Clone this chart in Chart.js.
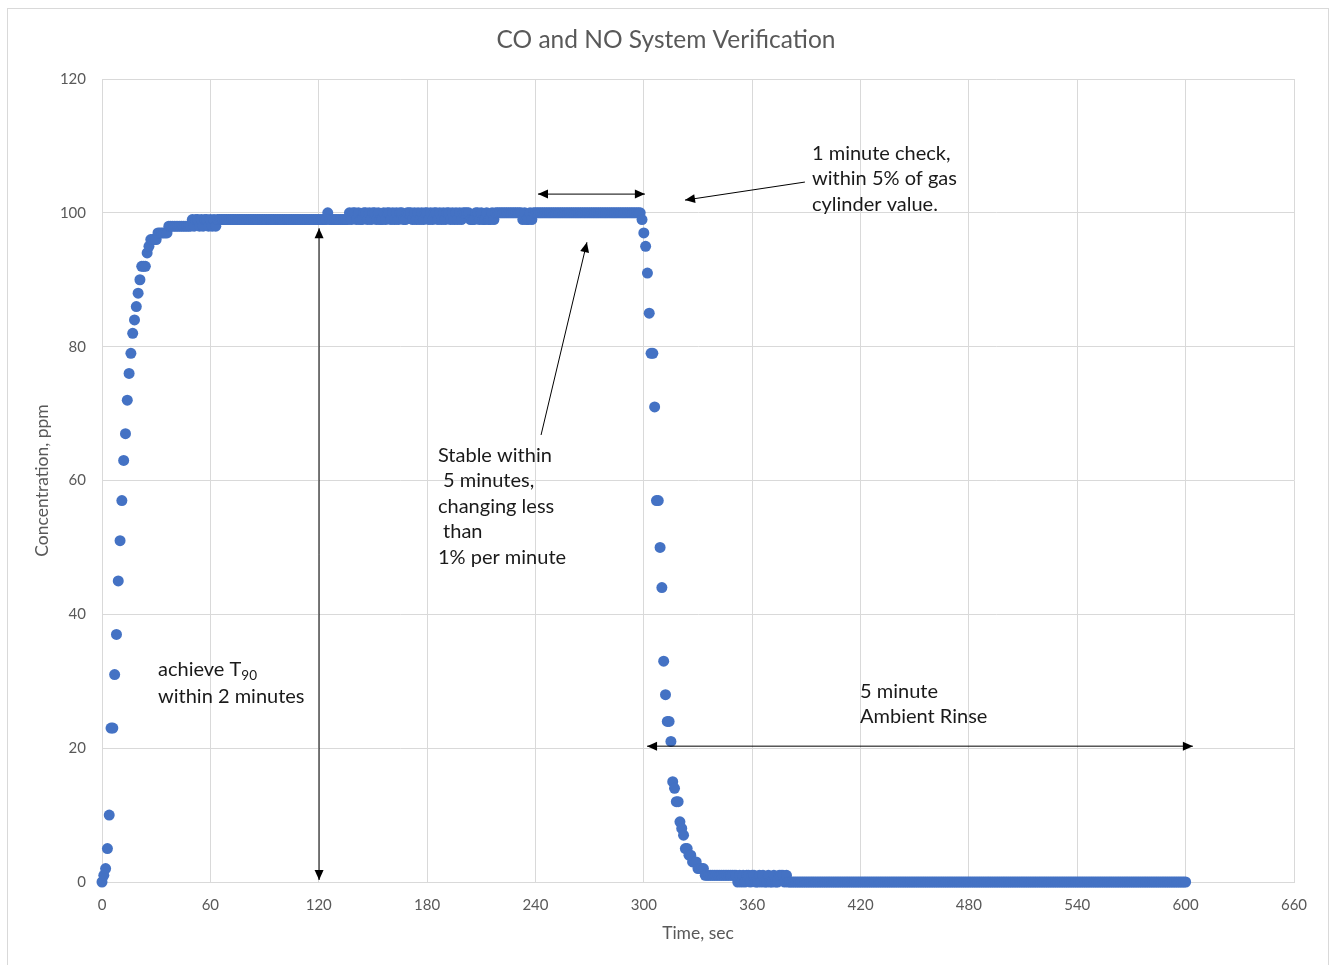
<!DOCTYPE html>
<html>
<head>
<meta charset="utf-8">
<title>CO and NO System Verification</title>
<script src="https://cdn.jsdelivr.net/npm/chart.js@4/dist/chart.umd.min.js"></script>
<style>
    html, body { margin: 0; padding: 0; background: #fff; }
    #wrap { width: 1332px; height: 965px; }
</style>
</head>
<body>
<div id="wrap"><canvas id="verifyChart" width="1332" height="965"></canvas></div>
<script>
// readings were logged once per second, 0..600 s
const sampleStep = 1;

// concentration in ppm, 20 readings per row
const concPpm = [
    0, 1, 2, 5, 10, 23, 23, 31, 37, 45, 51, 57, 63, 67, 72, 76, 79, 82, 84, 86,
    88, 90, 92, 92, 92, 94, 95, 96, 96, 96, 96, 97, 97, 97, 97, 97, 97, 98, 98, 98,
    98, 98, 98, 98, 98, 98, 98, 98, 98, 98, 99, 98, 99, 99, 98, 99, 98, 99, 99, 98,
    99, 98, 99, 98, 99, 99, 99, 99, 99, 99, 99, 99, 99, 99, 99, 99, 99, 99, 99, 99,
    99, 99, 99, 99, 99, 99, 99, 99, 99, 99, 99, 99, 99, 99, 99, 99, 99, 99, 99, 99,
    99, 99, 99, 99, 99, 99, 99, 99, 99, 99, 99, 99, 99, 99, 99, 99, 99, 99, 99, 99,
    99, 99, 99, 99, 99, 100, 99, 99, 99, 99, 99, 99, 99, 99, 99, 99, 99, 100, 99, 100,
    100, 99, 100, 99, 99, 100, 100, 99, 100, 99, 100, 100, 99, 100, 99, 99, 100, 99, 100, 100,
    99, 100, 99, 100, 99, 100, 100, 99, 99, 100, 100, 100, 99, 100, 99, 100, 99, 100, 99, 100,
    100, 99, 100, 99, 100, 100, 99, 100, 99, 100, 99, 100, 100, 99, 100, 99, 100, 99, 100, 99,
    100, 100, 100, 100, 99, 99, 99, 100, 100, 99, 100, 99, 99, 100, 99, 99, 100, 99, 100, 100,
    100, 100, 100, 100, 100, 100, 100, 100, 100, 100, 100, 100, 100, 99, 100, 99, 99, 100, 99, 100,
    100, 100, 100, 100, 100, 100, 100, 100, 100, 100, 100, 100, 100, 100, 100, 100, 100, 100, 100, 100,
    100, 100, 100, 100, 100, 100, 100, 100, 100, 100, 100, 100, 100, 100, 100, 100, 100, 100, 100, 100,
    100, 100, 100, 100, 100, 100, 100, 100, 100, 100, 100, 100, 100, 100, 100, 100, 100, 100, 100, 99,
    97, 95, 91, 85, 79, 79, 71, 57, 57, 50, 44, 33, 28, 24, 24, 21, 15, 14, 12, 12,
    9, 8, 7, 5, 5, 4, 4, 3, 3, 3, 2, 2, 2, 2, 1, 1, 1, 1, 1, 1,
    1, 1, 1, 1, 1, 1, 1, 1, 1, 1, 1, 1, 0, 1, 0, 1, 0, 1, 1, 0,
    1, 1, 0, 0, 1, 0, 1, 0, 0, 1, 0, 0, 1, 0, 0, 1, 1, 1, 0, 1,
    0, 0, 0, 0, 0, 0, 0, 0, 0, 0, 0, 0, 0, 0, 0, 0, 0, 0, 0, 0,
    0, 0, 0, 0, 0, 0, 0, 0, 0, 0, 0, 0, 0, 0, 0, 0, 0, 0, 0, 0,
    0, 0, 0, 0, 0, 0, 0, 0, 0, 0, 0, 0, 0, 0, 0, 0, 0, 0, 0, 0,
    0, 0, 0, 0, 0, 0, 0, 0, 0, 0, 0, 0, 0, 0, 0, 0, 0, 0, 0, 0,
    0, 0, 0, 0, 0, 0, 0, 0, 0, 0, 0, 0, 0, 0, 0, 0, 0, 0, 0, 0,
    0, 0, 0, 0, 0, 0, 0, 0, 0, 0, 0, 0, 0, 0, 0, 0, 0, 0, 0, 0,
    0, 0, 0, 0, 0, 0, 0, 0, 0, 0, 0, 0, 0, 0, 0, 0, 0, 0, 0, 0,
    0, 0, 0, 0, 0, 0, 0, 0, 0, 0, 0, 0, 0, 0, 0, 0, 0, 0, 0, 0,
    0, 0, 0, 0, 0, 0, 0, 0, 0, 0, 0, 0, 0, 0, 0, 0, 0, 0, 0, 0,
    0, 0, 0, 0, 0, 0, 0, 0, 0, 0, 0, 0, 0, 0, 0, 0, 0, 0, 0, 0,
    0, 0, 0, 0, 0, 0, 0, 0, 0, 0, 0, 0, 0, 0, 0, 0, 0, 0, 0, 0,
    0
];

const xTicks = [0, 60, 120, 180, 240, 300, 360, 420, 480, 540, 600, 660];
const yTicks = [0, 20, 40, 60, 80, 100, 120];

const chartTitle = 'CO and NO System Verification';
const xTitle = 'Time, sec';
const yTitle = 'Concentration, ppm';

// callouts, anchored in data units (sec, ppm)
const arrows = [
    {from: [241.4, 102.8], to: [300.6, 102.8], both: true},
    {from: [389.2, 104.6], to: [322.8, 101.9], both: false},
    {from: [243.1, 66.8], to: [268.5, 95.6], both: false},
    {from: [120.2, 0.3], to: [120.2, 97.7], both: true},
    {from: [301.8, 20.3], to: [604.0, 20.3], both: true}
];
const notes = [
    {at: [393.1, 108.9], lines: ['1 minute check,', 'within 5% of gas', 'cylinder value.']},
    {at: [186.0, 63.8], lines: ['Stable within', ' 5 minutes,', 'changing less', ' than', '1% per minute']},
    {at: [419.7, 28.5], lines: ['5 minute', 'Ambient Rinse']}
];
const t90Note = {at: [31.0, 31.7], before: 'achieve T', sub: '90', after: 'within 2 minutes'};

const fontFamily = 'Lato, "Open Sans", sans-serif';
const greyText = '#595959';
const gridGrey = '#d9d9d9';

let points = concPpm.map((v, i) => ({x: i * sampleStep, y: v}));

function drawArrowHead(ctx, x1, y1, x2, y2) {
    let ang = Math.atan2(y2 - y1, x2 - x1);
    let len = 10, half = 4.5;
    ctx.beginPath();
    ctx.moveTo(x2, y2);
    ctx.lineTo(x2 - len * Math.cos(ang) + half * Math.sin(ang), y2 - len * Math.sin(ang) - half * Math.cos(ang));
    ctx.lineTo(x2 - len * Math.cos(ang) - half * Math.sin(ang), y2 - len * Math.sin(ang) + half * Math.cos(ang));
    ctx.closePath();
    ctx.fill();
}

const frameAndTitle = {
    id: 'frameAndTitle',
    beforeDraw(chart) {
        let ctx = chart.ctx;
        ctx.save();
        ctx.fillStyle = '#fff';
        ctx.fillRect(0, 0, chart.width, chart.height);
        ctx.strokeStyle = gridGrey;
        ctx.lineWidth = 1;
        ctx.strokeRect(7.5, 8.5, 1321, 990);
        ctx.restore();
    },
    afterDraw(chart) {
        let ctx = chart.ctx;
        ctx.save();
        ctx.fillStyle = greyText;
        ctx.font = '24.5px ' + fontFamily;
        ctx.textAlign = 'center';
        ctx.textBaseline = 'middle';
        ctx.fillText(chartTitle, chart.width / 2, 40);
        ctx.restore();
    }
};

const callouts = {
    id: 'callouts',
    afterDraw(chart) {
        let ctx = chart.ctx;
        let xs = chart.scales.x, ys = chart.scales.y;
        ctx.save();
        ctx.strokeStyle = '#000';
        ctx.fillStyle = '#000';
        ctx.lineWidth = 1;
        arrows.forEach((a) => {
            let x1 = xs.getPixelForValue(a.from[0]), y1 = ys.getPixelForValue(a.from[1]);
            let x2 = xs.getPixelForValue(a.to[0]), y2 = ys.getPixelForValue(a.to[1]);
            ctx.beginPath();
            ctx.moveTo(x1, y1);
            ctx.lineTo(x2, y2);
            ctx.stroke();
            drawArrowHead(ctx, x1, y1, x2, y2);
            if (a.both) {
                drawArrowHead(ctx, x2, y2, x1, y1);
            }
        });

        ctx.font = '20px ' + fontFamily;
        ctx.fillStyle = '#1a1a1a';
        ctx.textAlign = 'left';
        ctx.textBaseline = 'middle';
        notes.forEach((n) => {
            let x = xs.getPixelForValue(n.at[0]), y = ys.getPixelForValue(n.at[1]);
            n.lines.forEach((line, i) => {
                ctx.fillText(line, x, y + i * 25.5);
            });
        });

        // T90 with a subscript
        let tx = xs.getPixelForValue(t90Note.at[0]), ty = ys.getPixelForValue(t90Note.at[1]);
        ctx.fillText(t90Note.before, tx, ty);
        let w = ctx.measureText(t90Note.before).width;
        ctx.font = '13.5px ' + fontFamily;
        ctx.fillText(t90Note.sub, tx + w, ty + 6);
        ctx.font = '20px ' + fontFamily;
        ctx.fillText(t90Note.after, tx, ty + 27);
        ctx.restore();
    }
};

new Chart(document.getElementById('verifyChart').getContext('2d'), {
    type: 'scatter',
    data: {
        datasets: [{
            data: points,
            showLine: false,
            clip: false,
            pointRadius: 5.5,
            pointHoverRadius: 5.5,
            pointBorderWidth: 0,
            backgroundColor: '#4472C4',
            borderColor: '#4472C4'
        }]
    },
    options: {
        responsive: false,
        animation: false,
        events: [],
        layout: {padding: {left: 28, right: 38, top: 79, bottom: 17}},
        plugins: {
            legend: {display: false},
            title: {display: false},
            tooltip: {enabled: false}
        },
        scales: {
            x: {
                type: 'linear',
                min: 0,
                max: 660,
                afterFit: (scale) => { scale.height = 66; },
                afterBuildTicks: (scale) => { scale.ticks = xTicks.map((v) => ({value: v})); },
                ticks: {color: greyText, font: {family: fontFamily, size: 15}, padding: 14, maxRotation: 0},
                grid: {color: gridGrey, drawTicks: false},
                border: {color: gridGrey},
                title: {display: true, text: xTitle, color: greyText, font: {family: fontFamily, size: 17.5}}
            },
            y: {
                min: 0,
                max: 120,
                afterFit: (scale) => { scale.width = 74; },
                afterBuildTicks: (scale) => { scale.ticks = yTicks.map((v) => ({value: v})); },
                ticks: {color: greyText, font: {family: fontFamily, size: 15}, padding: 16},
                grid: {color: gridGrey, drawTicks: false},
                border: {color: gridGrey},
                title: {display: true, text: yTitle, color: greyText, font: {family: fontFamily, size: 17.5}}
            }
        }
    },
    plugins: [frameAndTitle, callouts]
});
</script>
</body>
</html>
